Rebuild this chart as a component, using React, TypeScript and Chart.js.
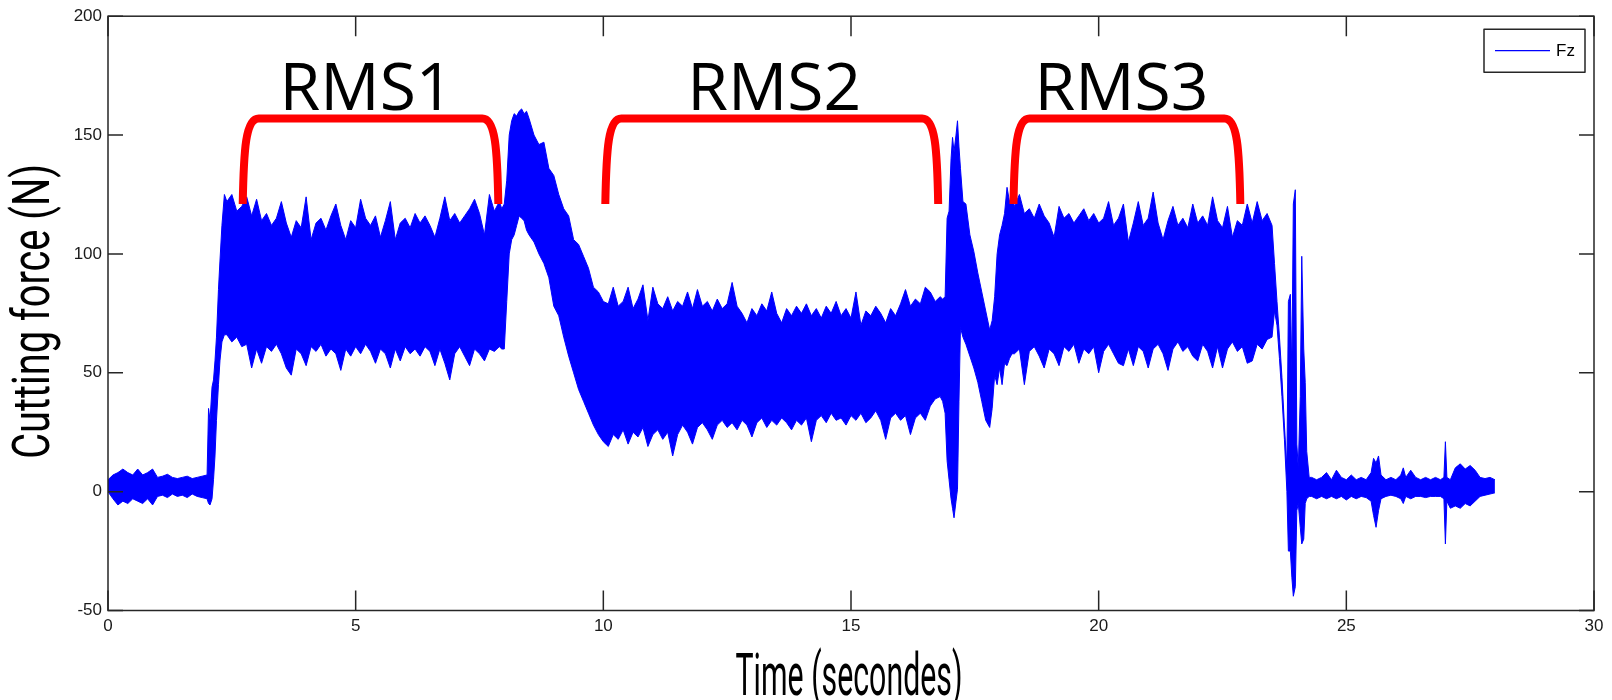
import React, { useEffect, useRef } from "react";
import { Chart, registerables } from "chart.js";

Chart.register(...registerables);

// ---- Data (envelope of the Fz signal, in N) ----
const timeSec = [
  // idle
  0, 0.1, 0.2, 0.3, 0.4, 0.5, 0.6, 0.7, 0.8, 0.9, 1.0, 1.1, 1.2, 1.3, 1.4, 1.5, 1.6, 1.7, 1.8, 1.9, 2.0,
  // ramp
  2.03, 2.06, 2.1, 2.13, 2.16, 2.19, 2.23, 2.26, 2.3, 2.35,
  // RMS1 plateau
  2.4, 2.5, 2.6, 2.7, 2.8, 2.9,
  3.0, 3.1, 3.2, 3.3, 3.4, 3.5, 3.6, 3.7, 3.8, 3.9,
  4.0, 4.1, 4.2, 4.3, 4.4, 4.5, 4.6, 4.7, 4.8, 4.9,
  5.0, 5.1, 5.2, 5.3, 5.4, 5.5, 5.6, 5.7, 5.8, 5.9,
  6.0, 6.1, 6.2, 6.3, 6.4, 6.5, 6.6, 6.7, 6.8, 6.9,
  7.0, 7.1, 7.2, 7.3, 7.4, 7.5, 7.6, 7.7, 7.8, 7.9,
  // hump
  7.95, 8.0, 8.05, 8.1, 8.15, 8.2, 8.25, 8.3, 8.35, 8.4, 8.45, 8.5, 8.6, 8.7, 8.8, 8.9,
  9.0, 9.1, 9.2, 9.3, 9.4, 9.5, 9.6, 9.7, 9.8, 9.9, 10.0,
  // RMS2 plateau
  10.1, 10.2, 10.3, 10.4, 10.5, 10.6, 10.7, 10.8, 10.9,
  11.0, 11.1, 11.2, 11.3, 11.4, 11.5, 11.6, 11.7, 11.8, 11.9,
  12.0, 12.1, 12.2, 12.3, 12.4, 12.5, 12.6, 12.7, 12.8, 12.9,
  13.0, 13.1, 13.2, 13.3, 13.4, 13.5, 13.6, 13.7, 13.8, 13.9,
  14.0, 14.1, 14.2, 14.3, 14.4, 14.5, 14.6, 14.7, 14.8, 14.9,
  15.0, 15.1, 15.2, 15.3, 15.4, 15.5, 15.6, 15.7, 15.8, 15.9,
  16.0, 16.1, 16.2, 16.3, 16.4, 16.5, 16.6, 16.7, 16.8,
  // transient
  16.85, 16.9, 16.94, 16.98, 17.02, 17.05, 17.08, 17.12, 17.15, 17.18, 17.21, 17.26, 17.32, 17.4,
  17.48, 17.56, 17.64, 17.72, 17.8, 17.85, 17.9, 17.95, 18.0, 18.05, 18.1, 18.15, 18.2, 18.25,
  // RMS3 plateau
  18.3, 18.4, 18.5, 18.6, 18.7, 18.8, 18.9,
  19.0, 19.1, 19.2, 19.3, 19.4, 19.5, 19.6, 19.7, 19.8, 19.9,
  20.0, 20.1, 20.2, 20.3, 20.4, 20.5, 20.6, 20.7, 20.8, 20.9,
  21.0, 21.1, 21.2, 21.3, 21.4, 21.5, 21.6, 21.7, 21.8, 21.9,
  22.0, 22.1, 22.2, 22.3, 22.4, 22.5, 22.6, 22.7, 22.8, 22.9,
  23.0, 23.1, 23.2, 23.3, 23.4, 23.5,
  // exit
  23.55, 23.6, 23.65, 23.7, 23.75, 23.8, 23.83, 23.87, 23.9, 23.93, 23.97, 24.0, 24.03, 24.07,
  24.1, 24.14, 24.17, 24.2, 24.25,
  // tail
  24.3, 24.4, 24.5, 24.6, 24.7, 24.8, 24.9, 25.0, 25.1, 25.2,
  25.3, 25.4, 25.5, 25.55, 25.6, 25.65, 25.7, 25.8, 25.9, 26.0,
  26.1, 26.15, 26.2, 26.3, 26.4, 26.5, 26.6, 26.7, 26.8, 26.9,
  26.97, 27.0, 27.03, 27.1, 27.2, 27.3, 27.4, 27.5, 27.6, 27.7,
  27.8, 27.9, 28.0,
];

const fzUpper = [
  5, 7, 8, 9.5, 8, 7, 9.5, 7, 8, 9.5, 6, 6.5, 7.3, 6, 5.5, 6, 6.5, 5.5, 6, 6.5, 7,
  35, 30, 44, 47, 55, 65, 85, 97, 112, 125,
  122, 125, 118, 120, 124, 116,
  123, 114, 117, 112, 115, 122, 113, 107, 114, 111,
  124, 106, 113, 115, 110, 116, 121, 112, 106, 114,
  111, 123, 115, 112, 116, 107, 114, 122, 106, 113,
  115, 111, 117, 113, 116, 112, 107, 115, 124, 114,
  117, 113, 116, 119, 123, 117, 108, 125, 118, 122,
  119, 121, 131, 150, 156, 159, 158, 160, 161, 159, 160, 157, 150, 146, 147, 136,
  133, 125, 119, 116, 106, 104, 99, 94, 86, 84, 80,
  79, 86, 78, 80, 86, 77, 81, 87, 72,
  86, 79, 77, 82, 76, 80, 78, 84, 77, 85,
  78, 80, 76, 81, 77, 79, 88, 78, 75, 71,
  77, 74, 79, 76, 84, 75, 71, 77, 74, 78,
  75, 79, 74, 77, 73, 78, 75, 80, 74, 77,
  73, 84, 70, 76, 74, 78, 75, 71, 77, 74,
  79, 85, 78, 81, 79, 86, 84, 80, 82,
  81, 82, 115, 118, 140, 149, 143, 150, 156, 145, 136, 122, 121, 108,
  101, 92, 84, 76, 68, 72, 82, 100, 108, 112, 117, 128, 122, 124,
  120, 125, 117, 119, 115, 121, 116,
  113, 107, 120, 115, 117, 113, 116, 119, 114, 117,
  113, 115, 122, 112, 115, 121, 105, 113, 122, 112,
  115, 126, 113, 106, 114, 120, 112, 115, 111, 121,
  113, 116, 112, 124, 114, 111, 120, 107, 114, 112,
  121, 113, 122, 114, 117, 112,
  96, 80, 65, 48, 28, 10, 80, 83, 50, 121, 127, 20, 10, 40,
  99, 60, 46, 17, 6,
  6, 5, 6, 8, 5, 9, 6, 5, 7, 5,
  6, 5, 8, 14, 12, 15, 7, 5, 6, 5,
  7, 10, 6, 9, 6, 5, 6, 5, 6, 5,
  6, 21, 6, 5, 10, 11.7, 9.5, 11, 9, 6,
  5.5, 6, 5,
];

const fzLower = [
  0, -3, -5.6, -4, -5, -3, -4, -5, -3, -5.6, -2, -1.5, -2.5, -1, -2, -1.5, -2.5, -1, -2, -2.5, -3,
  -5, -5.6, -3, 5, 15, 30, 45, 55, 63, 66,
  66, 63, 65, 61, 62, 52,
  60, 54, 61, 59, 62, 58, 52, 49, 60, 58,
  53, 61, 59, 62, 57, 60, 58, 51, 60, 57,
  61, 58, 62, 59, 54, 60, 58, 52, 60, 55,
  61, 58, 60, 57, 61, 59, 53, 60, 54, 47,
  58, 61, 57, 53, 60, 58, 55, 60, 59, 61,
  60, 60, 80, 100, 106, 108, 112, 116, 115, 114, 110, 108, 105, 100, 96, 90,
  78, 74, 65, 57, 50, 43, 38, 33, 28, 24, 21,
  19, 24, 22, 26, 20, 25, 23, 27, 19,
  24, 26, 22, 25, 15, 24, 28, 25, 20, 27,
  29, 26, 22, 28, 30, 27, 29, 26, 30, 28,
  23, 29, 31, 27, 30, 28, 31, 29, 26, 30,
  28, 31, 21, 30, 32, 29, 33, 30, 31, 28,
  32, 30, 33, 29, 31, 34, 30, 22, 31, 33,
  30, 32, 24, 31, 33, 30, 36, 39, 40,
  38, 33, 13, 5, -3, -7, -11, -4, 1, 38, 69, 65, 62, 57,
  52, 46, 38, 30, 27, 35, 49, 45, 52, 45, 54, 53, 56, 58,
  58, 60, 45, 59, 61, 57, 52,
  60, 58, 53, 61, 59, 62, 54, 60, 58, 61,
  50, 59, 62, 58, 54, 53, 60, 53, 61, 59,
  52, 60, 62, 58, 51, 60, 63, 59, 61, 57,
  55, 62, 59, 52, 61, 52, 60, 63, 59, 61,
  54, 55, 62, 60, 64, 65,
  76, 70, 56, 40, 22, 0, -25, -25, -36, -44, -40, -8, -5, -15,
  -22, -20, -5, -3, -2,
  -2, -3, -2, -3, -2, -3, -2, -3.5, -2, -3,
  -2, -2.5, -4, -10, -15, -8, -3, -2, -1.5, -2,
  -3, -5, -2, -3, -2, -2, -2.5, -2, -2, -2,
  -3, -22, -4, -7, -6, -7, -5, -6, -4, -2,
  -1.5, -1, -0.5,
];

const xTickValues = [0, 5, 10, 15, 20, 25, 30];
const yTickValues = [-50, 0, 50, 100, 150, 200];

const rmsLabels = ["RMS1", "RMS2", "RMS3"];
const rmsStart = [2.72, 10.04, 18.28];
const rmsEnd = [7.88, 16.76, 22.86];
const rmsLabelAt = [5.22, 13.45, 20.46];
const bracketTop = 157;
const bracketFoot = 121;

const seriesName = "Fz";
const xTitle = "Time (secondes)";
const yTitle = "Cutting force (N)";

const BLUE = "#0000ff";

function drawFitted(ctx: CanvasRenderingContext2D, text: string, cx: number, cy: number, width: number, size: number, rot: number) {
  ctx.save();
  ctx.translate(cx, cy);
  ctx.rotate(rot);
  ctx.font = `${size}px Roboto`;
  const w = ctx.measureText(text).width;
  ctx.scale(width / w, 1);
  ctx.textAlign = "center";
  ctx.textBaseline = "alphabetic";
  ctx.fillStyle = "#000";
  ctx.fillText(text, 0, 0);
  ctx.restore();
}

const overlayPlugin = {
  id: "overlay",
  afterDatasetsDraw(chart: any) {
    const { ctx, chartArea: a, scales } = chart;
    const x = scales.x;
    const y = scales.y;
    ctx.save();

    // frame
    ctx.strokeStyle = "#262626";
    ctx.lineWidth = 1.5;
    ctx.strokeRect(a.left, a.top, a.right - a.left, a.bottom - a.top);

    // inward ticks (MATLAB style)
    ctx.beginPath();
    xTickValues.forEach((v) => {
      const px = x.getPixelForValue(v);
      ctx.moveTo(px, a.bottom);
      ctx.lineTo(px, a.bottom - 20);
      ctx.moveTo(px, a.top);
      ctx.lineTo(px, a.top + 20);
    });
    yTickValues.forEach((v) => {
      const py = y.getPixelForValue(v);
      ctx.moveTo(a.left, py);
      ctx.lineTo(a.left + 15, py);
      ctx.moveTo(a.right, py);
      ctx.lineTo(a.right - 15, py);
    });
    ctx.stroke();

    // RMS brackets
    ctx.strokeStyle = "#ff0000";
    ctx.lineWidth = 8;
    ctx.lineCap = "butt";
    ctx.lineJoin = "round";
    const yt = y.getPixelForValue(bracketTop);
    const yb = y.getPixelForValue(bracketFoot);
    rmsStart.forEach((s, i) => {
      const xl = x.getPixelForValue(s);
      const xr = x.getPixelForValue(rmsEnd[i]);
      ctx.beginPath();
      ctx.moveTo(xl, yb);
      ctx.bezierCurveTo(xl + 1, yt + 30, xl + 3, yt, xl + 16, yt);
      ctx.lineTo(xr - 16, yt);
      ctx.bezierCurveTo(xr - 3, yt, xr - 1, yt + 30, xr, yb);
      ctx.stroke();
    });

    // RMS labels
    ctx.fillStyle = "#000";
    ctx.font = "66px 'Open Sans'";
    ctx.textAlign = "center";
    ctx.textBaseline = "alphabetic";
    rmsLabels.forEach((t, i) => {
      ctx.fillText(t, x.getPixelForValue(rmsLabelAt[i]), yt - 8);
    });

    // legend box
    const bw = 101, bh = 43;
    const bx = a.right - 9 - bw;
    const by = a.top + 13;
    ctx.fillStyle = "#fff";
    ctx.fillRect(bx, by, bw, bh);
    ctx.strokeStyle = "#262626";
    ctx.lineWidth = 1.5;
    ctx.strokeRect(bx, by, bw, bh);
    ctx.strokeStyle = BLUE;
    ctx.lineWidth = 1.2;
    ctx.beginPath();
    ctx.moveTo(bx + 11, by + bh / 2);
    ctx.lineTo(bx + 66, by + bh / 2);
    ctx.stroke();
    ctx.fillStyle = "#000";
    ctx.font = "17px 'Liberation Sans'";
    ctx.textAlign = "left";
    ctx.textBaseline = "middle";
    ctx.fillText(seriesName, bx + 72, by + bh / 2 + 1);

    ctx.restore();
  },
  afterDraw(chart: any) {
    const { ctx, chartArea: a } = chart;
    // axis titles in a tall condensed style
    drawFitted(ctx, xTitle, (a.left + a.right) / 2 - 2, 695, 227, 60, 0);
    drawFitted(ctx, yTitle, 49, (a.top + a.bottom) / 2 - 2, 295, 51, -Math.PI / 2);
  },
};

export default function App() {
  const ref = useRef<HTMLCanvasElement | null>(null);

  useEffect(() => {
    if (!ref.current) return;
    const upper = timeSec.map((t, i) => ({ x: t, y: fzUpper[i] }));
    const lower = timeSec.map((t, i) => ({ x: t, y: fzLower[i] }));
    const tickFont = { family: "'Liberation Sans', Arial, sans-serif", size: 17 };

    const chart = new Chart(ref.current, {
      type: "line",
      data: {
        datasets: [
          {
            label: seriesName,
            data: upper,
            borderColor: BLUE,
            backgroundColor: BLUE,
            borderWidth: 1,
            pointRadius: 0,
            tension: 0,
            fill: "+1",
          },
          {
            label: seriesName + " min",
            data: lower,
            borderColor: BLUE,
            backgroundColor: BLUE,
            borderWidth: 1,
            pointRadius: 0,
            tension: 0,
            fill: false,
          },
        ],
      },
      options: {
        animation: false,
        responsive: false,
        devicePixelRatio: 1,
        layout: { padding: { top: 16, right: 18, left: 0, bottom: 0 } },
        plugins: {
          legend: { display: false },
          tooltip: { enabled: false },
          title: { display: false },
        },
        scales: {
          x: {
            type: "linear",
            min: 0,
            max: 30,
            afterBuildTicks: (s: any) => {
              s.ticks = xTickValues.map((v) => ({ value: v }));
            },
            afterFit: (s: any) => {
              s.height = 89.5;
            },
            grid: { display: false, drawTicks: false },
            border: { display: false },
            ticks: { font: tickFont, color: "#1a1a1a", padding: 6, maxRotation: 0, autoSkip: false },
          },
          y: {
            type: "linear",
            min: -50,
            max: 200,
            afterBuildTicks: (s: any) => {
              s.ticks = yTickValues.map((v) => ({ value: v }));
            },
            afterFit: (s: any) => {
              s.width = 108;
            },
            grid: { display: false, drawTicks: false },
            border: { display: false },
            ticks: { font: tickFont, color: "#1a1a1a", padding: 6, autoSkip: false },
          },
        },
      },
      plugins: [overlayPlugin],
    } as any);

    return () => chart.destroy();
  }, []);

  return (
    <div style={{ position: "absolute", left: 0, top: 0, width: 1612, height: 700, background: "#fff" }}>
      <canvas ref={ref} width={1612} height={700} style={{ width: 1612, height: 700, display: "block" }} />
    </div>
  );
}
